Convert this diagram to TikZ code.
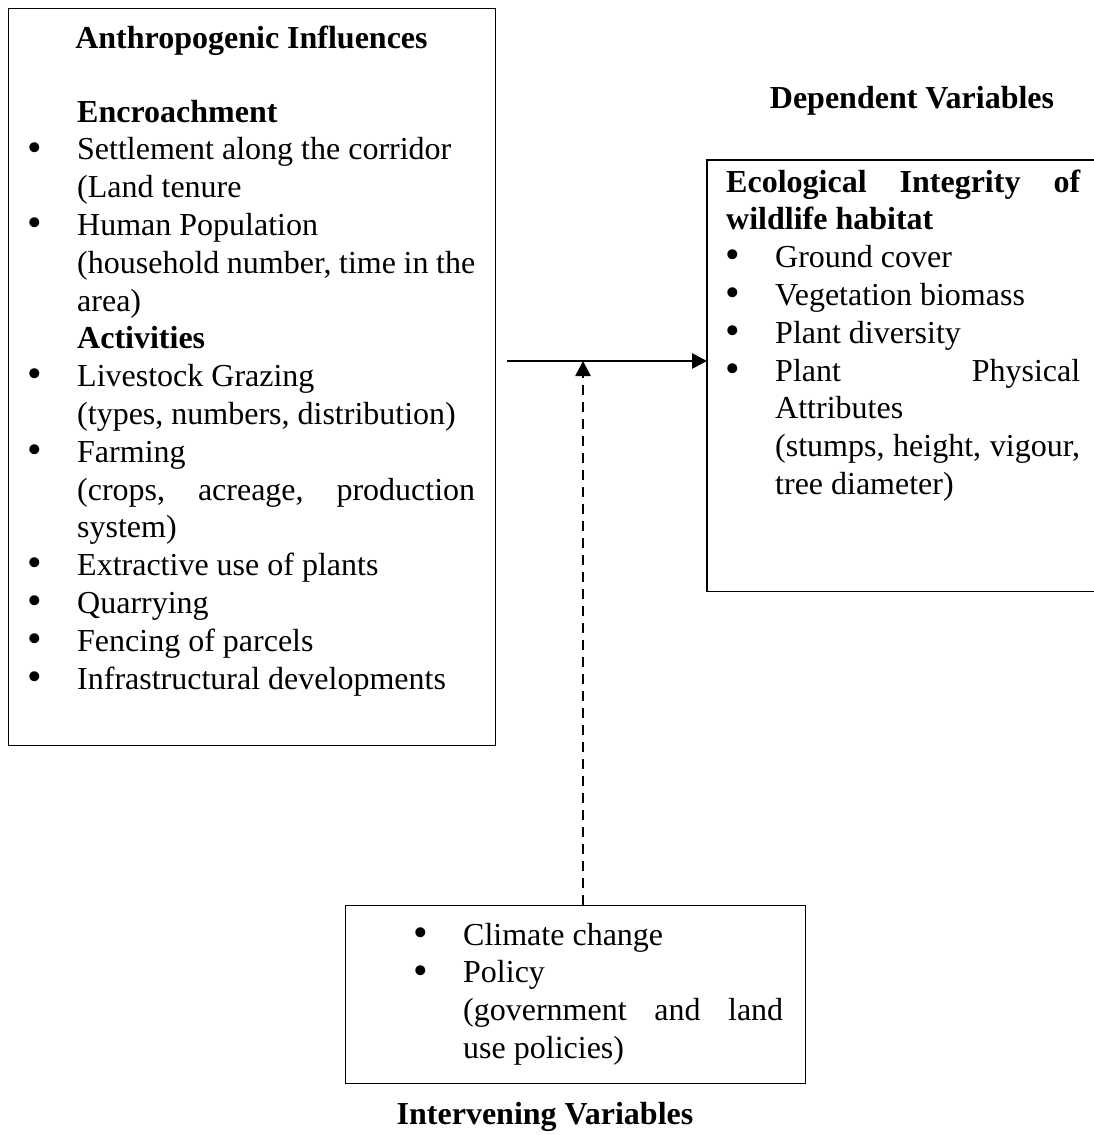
\documentclass[tikz,border=0pt]{standalone}
\usepackage{fontspec}
\setmainfont{Liberation Serif}
\usetikzlibrary{arrows.meta}
\newcommand\bigbul{\raisebox{-1.2pt}{\scalebox{1.3}{\textbullet}}}
\newcommand\bitem{\makebox[0pt][r]{\bigbul\hspace{35pt}}}
\newcommand\indnt{\hspace*{49pt}}
\begin{document}
\begin{tikzpicture}[x=1pt,y=-1pt,
  frame/.style={draw=black, line width=1.4pt, inner sep=0pt, anchor=north west},
  txt/.style={inner sep=0pt, anchor=base west, font=\fontsize{32}{37.8}\selectfont},
  head/.style={inner sep=0pt, anchor=base, font=\fontsize{32}{37.8}\selectfont\bfseries},
  conn/.style={line width=2.7pt, -{Triangle[length=15pt,width=15pt]}},
]
\useasboundingbox (0,0) rectangle (1094,1135);
\fill[white] (0,0) rectangle (1094,1135);

% boxes
\node[frame, minimum width=487pt, minimum height=737pt] (anthro) at (8,8) {};
\node[frame, draw=none, minimum width=387pt, minimum height=430pt] (dep) at (707,160) {};
\draw[line width=1.4pt] (dep.north east) -- (dep.north west) -- (dep.south west) -- (dep.south east);
\node[frame, minimum width=460pt, minimum height=178pt] (interv) at (345,905) {};

% headings
\node[head] (anthrohead) at (251.5,48) {Anthropogenic Influences};
\node[head] (dephead) at (912,108) {Dependent Variables};
\node[head] (intervhead) at (545,1124) {Intervening Variables};

% left text
\node[txt] (anthrotext) at (77,122) {\parbox[t]{398pt}{%
\textbf{Encroachment}\\
\bitem Settlement along the corridor\\
(Land tenure\\
\bitem Human Population\\
\makebox[398pt][s]{(household number, time in the}\\
area)\\
\textbf{Activities}\\
\bitem Livestock Grazing\\
(types, numbers, distribution)\\
\bitem Farming\\
\makebox[398pt][s]{(crops, acreage, production}\\
system)\\
\bitem Extractive use of plants\\
\bitem Quarrying\\
\bitem Fencing of parcels\\
\bitem Infrastructural developments}};

% right text
\node[txt] (deptext) at (726,192) {\parbox[t]{354pt}{%
\makebox[354pt][s]{\bfseries Ecological Integrity of}\\
\textbf{wildlife habitat}\\
\indnt\bitem Ground cover\\
\indnt\bitem Vegetation biomass\\
\indnt\bitem Plant diversity\\
\indnt\bitem\makebox[305pt][s]{Plant Physical}\\
\indnt Attributes\\
\indnt\makebox[305pt][s]{(stumps, height, vigour,}\\
\indnt tree diameter)}};

% bottom text
\node[txt] (intervtext) at (463,945) {\parbox[t]{320pt}{%
\bitem Climate change\\
\bitem Policy\\
\makebox[320pt][s]{(government and land}\\
use policies)}};

% connectors
\coordinate (hstart) at (507,361);
\coordinate (meet) at (583,361);
\draw[conn] (hstart) -- (hstart -| dep.west);
\draw[conn, dash pattern=on 10pt off 7pt] (interv.north -| meet) -- (meet);
\end{tikzpicture}
\end{document}
